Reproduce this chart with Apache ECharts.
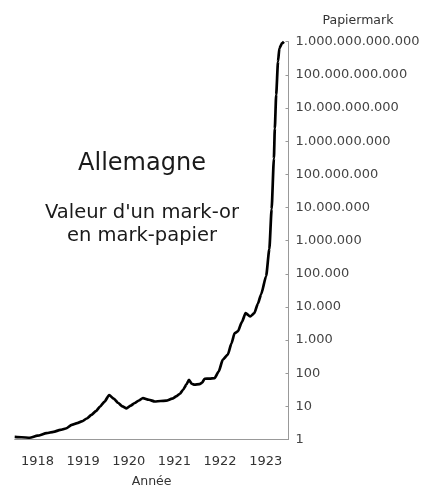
<!DOCTYPE html>
<html>
<head>
<meta charset="utf-8">
<script src="https://cdn.jsdelivr.net/npm/echarts@6/dist/echarts.min.js"></script>
<style>
  html, body { margin: 0; padding: 0; background: #fff; }
  #main { width: 423px; height: 486px; }
</style>
</head>
<body>
<div id="main"></div>
<script>
// années (axe catégorie) et valeurs
const yearLabels = ['1918', '1919', '1920', '1921', '1922', '1923'];

const dates = [
  1918.00, 1918.15, 1918.33, 1918.50, 1918.70, 1918.85,
  1919.00, 1919.12, 1919.25, 1919.37, 1919.47, 1919.58, 1919.68, 1919.78, 1919.87, 1919.97,
  1920.07, 1920.17, 1920.27, 1920.36, 1920.45, 1920.54, 1920.63, 1920.72, 1920.81, 1920.94,
  1921.07, 1921.20, 1921.32, 1921.45, 1921.54, 1921.62, 1921.69, 1921.76, 1921.82, 1921.88, 1921.94,
  1922.05, 1922.11, 1922.16, 1922.27, 1922.38, 1922.47, 1922.56, 1922.67, 1922.75, 1922.82, 1922.89, 1922.98,
  1923.06, 1923.16, 1923.25, 1923.33, 1923.40, 1923.51, 1923.58, 1923.63, 1923.68, 1923.70,
  1923.73, 1923.77, 1923.80, 1923.86, 1923.90
];

const papiermark = [
  1.2, 1.17, 1.13, 1.3, 1.55, 1.7,
  1.95, 2.15, 2.75, 3.1, 3.5, 4.3, 5.5, 7.2, 9.8, 14,
  22, 17, 12.6, 10, 8.7, 10.5, 12.6, 15, 17.8, 15.8,
  14, 14.5, 14.8, 17, 20, 24, 31.6, 45, 63, 48, 45,
  47, 52, 68, 69, 71, 112, 257, 363, 794, 1622, 1820, 3550,
  6460, 5130, 6460, 12600, 24000, 85000, 550000, 8.9e6, 3e8, 2.4e9,
  2.5e10, 2.5e11, 6.3e11, 9e11, 1e12
];

const dotted = (v) => String(Math.round(v)).replace(/\B(?=(\d{3})+(?!\d))/g, '.');

let myChart = echarts.init(document.getElementById('main'));
myChart.setOption({
  animation: false,
  textStyle: { fontFamily: 'DejaVu Sans' },
  title: [
    {
      text: 'Allemagne',
      left: 137,
      top: 147,
      textAlign: 'center',
      textStyle: { fontSize: 24, fontWeight: 'normal', color: '#1a1a1a', fontFamily: 'DejaVu Sans' }
    },
    {
      text: "Valeur d'un mark-or\nen mark-papier",
      left: 137,
      top: 196,
      textAlign: 'center',
      textStyle: { fontSize: 19.5, lineHeight: 23, fontWeight: 'normal', color: '#1a1a1a', fontFamily: 'DejaVu Sans' }
    }
  ],
  grid: {
    left: 14.7,
    right: 134.5,
    top: 41.7,
    bottom: 46.5,
    containLabel: false,
    outerBoundsMode: 'none'
  },
  xAxis: [
    {
      type: 'category',
      data: yearLabels,
      boundaryGap: true,
      name: 'Année',
      nameLocation: 'middle',
      nameGap: 36,
      nameTextStyle: { fontSize: 12.5, color: '#333' },
      axisLine: { lineStyle: { color: '#999', width: 1 } },
      axisTick: { length: 6, lineStyle: { color: '#999' } },
      axisLabel: { fontSize: 13, color: '#333', margin: 16 }
    },
    {
      type: 'value',
      min: 1918,
      max: 1924,
      show: false
    }
  ],
  yAxis: {
    type: 'log',
    logBase: 10,
    position: 'right',
    min: 1,
    max: 1e12,
    interval: 1,
    splitNumber: 12,
    name: 'Papiermark',
    nameLocation: 'end',
    nameGap: 14,
    nameTextStyle: { fontSize: 12.5, color: '#333', align: 'left', padding: [0, 0, 0, 34] },
    axisLine: { show: true, lineStyle: { color: '#999', width: 1 } },
    axisTick: { show: true, inside: true, length: 3, lineStyle: { color: '#999' } },
    splitLine: { show: false },
    axisLabel: { fontSize: 13, color: '#444', margin: 7, formatter: dotted }
  },
  series: [
    {
      type: 'line',
      xAxisIndex: 1,
      data: dates.map((d, i) => [d, papiermark[i]]),
      showSymbol: false,
      smooth: 0.2,
      smoothMonotone: 'x',
      lineStyle: { color: '#000', width: 2.7 }
    }
  ]
});

window.addEventListener('resize', () => {
  myChart.resize();
});
</script>
</body>
</html>
